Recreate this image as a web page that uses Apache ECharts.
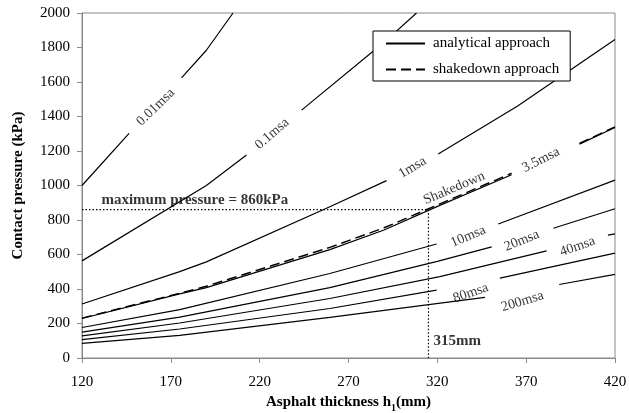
<!DOCTYPE html>
<html>
<head>
<meta charset="utf-8">
<script src="https://cdn.jsdelivr.net/npm/echarts@6/dist/echarts.min.js"></script>
<style>html,body{margin:0;padding:0;background:#fff}#c{width:629px;height:413px}</style>
</head>
<body>
<div id="c"></div>
<script>
// ---- data (thickness h1 in mm, contact pressure in kPa; null = break in the line where a label sits)
const xTicks = [120, 170, 220, 270, 320, 370, 420];
const yTicks = [0, 200, 400, 600, 800, 1000, 1200, 1400, 1600, 1800, 2000];

const h_001 = [120, 146.5, null, 176, 190, 205];
const p_001 = [1000, 1302, null, 1624, 1784, 2000];
const h_01 = [120, 190, 212.6, null, 243.6, 290, 308.3];
const p_01 = [563, 1000, 1177, null, 1437, 1830, 2000];
const h_1 = [120, 175, 190, 259.5, 291.4, null, 320.5, 365, 420];
const p_1 = [313, 501, 557, 877, 1028, null, 1182, 1460, 1846];
const h_35 = [120, 175, 190, 259.5, 290, 321.4, 361.8, null, 400, 420];
const p_35 = [229, 372, 408, 628, 742, 885, 1062, null, 1240, 1336];
const h_10 = [120, 175, 259.5, 319.6, null, 354.3, 420];
const p_10 = [177, 280, 490, 661, null, 777, 1031];
const h_20 = [120, 175, 259.5, 320, 350.6, null, 385.3, 420];
const p_20 = [150, 237, 408, 560, 644, null, 752, 865];
const h_40 = [120, 175, 259.5, 321.4, 381.5, null, 416, 420];
const p_40 = [128, 203, 345, 472, 621, null, 712, 720];
const h_80 = [120, 175, 259.5, 319.6, null, 355.2, 420];
const p_80 = [106, 168, 287, 393, null, 463, 608];
const h_200 = [120, 175, 259.5, 346.8, null, 388.6, 420];
const p_200 = [85, 131, 236, 352, null, 426, 485];
// shakedown approach
const h_sd = [120, 175, 190, 259.5, 290, 361.8, null, 400, 420];
const p_sd = [231, 376, 416, 641, 755, 1071, null, 1244, 1340];
// maximum pressure guide
const limitH = [120, 315, 315];
const limitP = [860, 860, 0];

// curve labels (anchored in data coordinates)
const labelText = ['0.01msa', '0.1msa', '1msa', 'Shakedown', '3.5msa', '10msa', '20msa', '40msa', '80msa', '200msa'];
const labelH = [161.5, 227, 306, 329.5, 378.3, 337.4, 367.5, 398.9, 338.8, 367.9];
const labelP = [1454, 1300, 1104, 985, 1148, 704, 680, 646, 376, 328];
const labelAngle = [44, 41, 31, 23, 27, 23, 22, 19, 19, 17];
const noteText = ['maximum pressure = 860kPa', '315mm'];
const noteH = [183.5, 317.8];
const noteP = [916, 96];

const FONT = '"Liberation Serif","Times New Roman",serif';
const GRAY = '#8a8a8a';

function pairs(hs, ps) {
  return hs.map((h, i) => h == null ? [null, null] : [h, ps[i]]);
}
function curve(name, hs, ps, dashed) {
  return {
    type: 'line', name: name, data: pairs(hs, ps),
    symbol: 'none', connectNulls: false, clip: true, z: 3,
    lineStyle: { color: '#000', width: dashed ? 1.4 : 1.2, type: dashed ? [10, 5] : 'solid' },
    itemStyle: { color: '#000' },
    emphasis: { disabled: true }
  };
}

const series = [
  curve('analytical approach', h_001, p_001),
  curve('analytical approach', h_01, p_01),
  curve('analytical approach', h_1, p_1),
  curve('analytical approach', h_35, p_35),
  curve('analytical approach', h_10, p_10),
  curve('analytical approach', h_20, p_20),
  curve('analytical approach', h_40, p_40),
  curve('analytical approach', h_80, p_80),
  curve('analytical approach', h_200, p_200),
  curve('shakedown approach', h_sd, p_sd, true),
  {
    type: 'line', name: 'limit', data: pairs(limitH, limitP), symbol: 'none', z: 2,
    lineStyle: { color: '#000', width: 1.2, type: [1.5, 2] }, emphasis: { disabled: true }
  },
  {
    type: 'scatter', name: 'curve labels', symbolSize: 0, z: 5, silent: true,
    data: labelText.map((t, i) => ({ value: [labelH[i], labelP[i]], label: { formatter: t, rotate: labelAngle[i] } })),
    label: { show: true, position: 'inside', align: 'center', verticalAlign: 'middle',
      fontFamily: FONT, fontSize: 14, color: '#000' }
  },
  {
    type: 'scatter', name: 'notes', symbolSize: 0, z: 5, silent: true,
    data: noteText.map((t, i) => ({ value: [noteH[i], noteP[i]], label: { formatter: t, align: i === 0 ? 'center' : 'left' } })),
    label: { show: true, position: 'inside', verticalAlign: 'middle',
      fontFamily: FONT, fontSize: 15, fontWeight: 'bold', color: '#000' }
  }
];

const chart = echarts.init(document.getElementById('c'), null, { renderer: 'canvas' });
chart.setOption({
  animation: false,
  backgroundColor: '#fff',
  grid: { left: 82, right: 14, top: 13, bottom: 55, show: true, borderColor: GRAY, borderWidth: 1,
    backgroundColor: 'transparent', containLabel: false, outerBoundsMode: 'none' },
  legend: {
    data: ['analytical approach', 'shakedown approach'],
    orient: 'vertical', left: 373, top: 31,
    padding: [5, 11, 4, 12], itemGap: 11, itemWidth: 39, itemHeight: 14,
    backgroundColor: '#fff', borderColor: '#000', borderWidth: 1,
    selectedMode: false,
    itemStyle: { opacity: 0, borderWidth: 0 },
    textStyle: { fontFamily: FONT, fontSize: 15, color: '#000', padding: [0, 0, 0, 3] }
  },
  xAxis: {
    type: 'value', min: xTicks[0], max: xTicks[xTicks.length - 1], interval: 50,
    name: 'Asphalt thickness h{sub|1}(mm)', nameLocation: 'middle', nameGap: 33,
    nameTextStyle: { fontFamily: FONT, fontSize: 15, fontWeight: 'bold', color: '#000',
      rich: { sub: { fontFamily: FONT, fontSize: 10, fontWeight: 'bold', color: '#000', verticalAlign: 'bottom', lineHeight: 22 } } },
    axisLine: { lineStyle: { color: GRAY } },
    axisTick: { show: true, length: 5, inside: false, lineStyle: { color: GRAY }, customValues: xTicks },
    axisLabel: { fontFamily: FONT, fontSize: 15, color: '#000', margin: 17, customValues: xTicks,
      formatter: v => String(v) },
    splitLine: { show: false }
  },
  yAxis: {
    type: 'value', min: yTicks[0], max: yTicks[yTicks.length - 1], interval: 200,
    name: 'Contact pressure (kPa)', nameLocation: 'middle', nameGap: 56,
    nameTextStyle: { fontFamily: FONT, fontSize: 15, fontWeight: 'bold', color: '#000' },
    axisLine: { show: true, lineStyle: { color: GRAY } },
    axisTick: { show: true, length: 5, lineStyle: { color: GRAY } },
    axisLabel: { fontFamily: FONT, fontSize: 15, color: '#000', margin: 12, formatter: v => String(v) },
    splitLine: { show: false }
  },
  series: series
});
</script>
</body>
</html>
